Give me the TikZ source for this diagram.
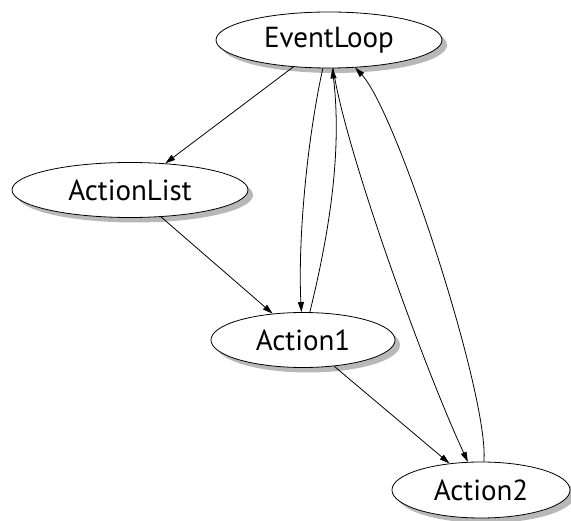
\documentclass[tikz,border=0pt]{standalone}
\usepackage{fontspec}
\setmainfont{PT Sans}
\usetikzlibrary{shapes.geometric,shadows,arrows.meta}
\begin{document}
\begin{tikzpicture}[x=1pt,y=-1pt,
  state/.style={ellipse,draw,line width=0.8pt,fill=white,inner sep=0pt,
    font=\fontsize{29}{33}\selectfont,
    drop shadow={shadow xshift=5pt,shadow yshift=-5pt,fill=black!28,opacity=1}},
  link/.style={line width=0.8pt,-{Triangle[length=10pt,width=6pt]}}]
\useasboundingbox (0,0) rectangle (571,521);
\node[state,minimum width=226pt,minimum height=56pt] (el) at (329,40) {EventLoop};
\node[state,minimum width=236pt,minimum height=55pt] (al) at (130,190) {ActionList};
\node[state,minimum width=184pt,minimum height=55pt] (a1) at (303,340) {Action1};
\node[state,minimum width=178pt,minimum height=56pt] (a2) at (481,490) {Action2};

\draw[link] (el) -- (al);
\draw[link] (al) -- (a1);
\draw[link] (a1) -- (a2);
\draw[link] (el) .. controls (305,150) and (298,250) .. (a1);
\draw[link] (a1) .. controls (330,230) and (342,150) .. (el);
\draw[link] (el) .. controls (345,150) and (425,370) .. (a2);
\draw[link] (a2) .. controls (490,400) and (397,112) .. (el);
\end{tikzpicture}
\end{document}
